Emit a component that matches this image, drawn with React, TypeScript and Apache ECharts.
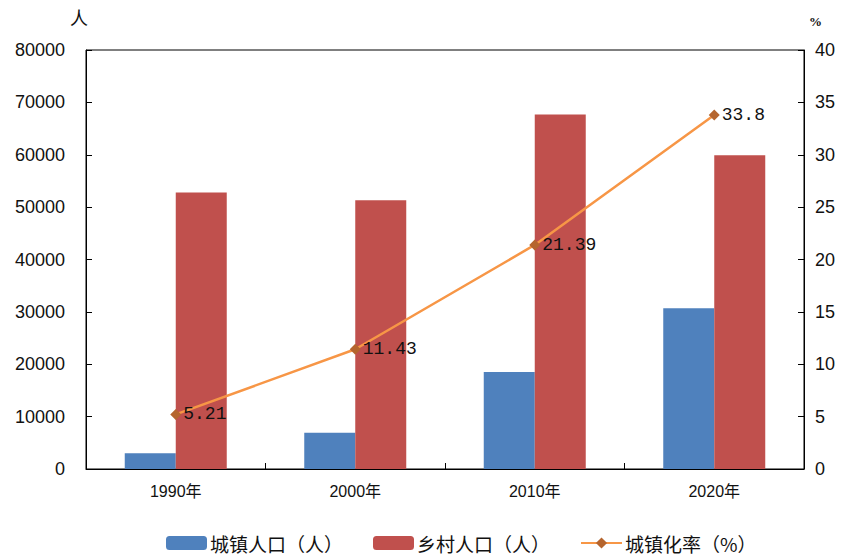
import React, { useEffect, useRef } from "react";
import * as echarts from "echarts";

const categories = ["1990年", "2000年", "2010年", "2020年"];
const urbanPop = [3000, 6900, 18500, 30700];
const ruralPop = [52800, 51300, 67700, 59900];
const urbanRate = [5.21, 11.43, 21.39, 33.8];
const seriesNames = ["城镇人口（人）", "乡村人口（人）", "城镇化率（%）"];

export default function App() {
  const ref = useRef<HTMLDivElement>(null);
  useEffect(() => {
    if (!ref.current) return;
    const chart = echarts.init(ref.current, null, { renderer: "svg" });
    const axisFont = "Liberation Sans, Arial, sans-serif";
    chart.setOption({
      animation: false,
      backgroundColor: "#fff",
      grid: {
        left: 86,
        right: 37,
        top: 50,
        bottom: 90,
        show: true,
        borderColor: "#000",
        borderWidth: 1,
        containLabel: false,
      },
      legend: {
        left: 166,
        top: 533,
        padding: 0,
        itemWidth: 41,
        itemHeight: 14,
        itemGap: 30,
        textStyle: {
          fontFamily: "Noto Sans CJK SC",
          fontSize: 19,
          lineHeight: 20,
          color: "#111",
          padding: [0, 0, 0, -2],
        },
        data: seriesNames,
      },
      xAxis: {
        type: "category",
        data: categories,
        axisLine: { lineStyle: { color: "#000", width: 1 } },
        axisTick: { show: true, inside: true, length: 6, lineStyle: { color: "#000" } },
        axisLabel: {
          color: "#111",
          fontFamily: "Liberation Sans, Noto Sans CJK SC, sans-serif",
          fontSize: 16,
          margin: 14,
        },
      },
      yAxis: [
        {
          type: "value",
          min: 0,
          max: 80000,
          interval: 10000,
          splitLine: { show: false },
          axisLine: { show: true, lineStyle: { color: "#000" } },
          axisTick: { show: true, inside: true, length: 6, lineStyle: { color: "#000" } },
          axisLabel: {
            color: "#111",
            fontFamily: axisFont,
            fontSize: 18,
            margin: 21,
            formatter: (v: number) => String(v),
          },
        },
        {
          type: "value",
          min: 0,
          max: 40,
          interval: 5,
          splitLine: { show: false },
          axisLine: { show: true, lineStyle: { color: "#000" } },
          axisTick: { show: true, inside: true, length: 6, lineStyle: { color: "#000" } },
          axisLabel: { color: "#111", fontFamily: axisFont, fontSize: 18, margin: 11 },
        },
      ],
      graphic: [
        {
          type: "text",
          left: 70,
          top: 8,
          style: { text: "人", font: "18px 'Noto Sans CJK SC'", fill: "#111" },
        },
        {
          type: "text",
          left: 809,
          top: 15,
          style: { text: "%", font: "bold 13px 'Liberation Serif'", fill: "#111" },
        },
      ],
      series: [
        {
          name: seriesNames[0],
          type: "bar",
          data: urbanPop,
          barWidth: 51,
          barGap: "0%",
          itemStyle: { color: "#4F81BD" },
        },
        {
          name: seriesNames[1],
          type: "bar",
          data: ruralPop,
          barWidth: 51,
          barGap: "0%",
          itemStyle: { color: "#C0504D" },
        },
        {
          name: seriesNames[2],
          type: "line",
          yAxisIndex: 1,
          data: urbanRate,
          symbol: "diamond",
          symbolSize: 11,
          lineStyle: { color: "#F79646", width: 2.5 },
          itemStyle: { color: "#B5652E" },
          label: {
            show: true,
            position: "right",
            distance: 2,
            color: "#111",
            fontFamily: "Liberation Mono, monospace",
            fontSize: 18,
          },
        },
      ],
    });
    return () => chart.dispose();
  }, []);
  return (
    <div
      ref={ref}
      style={{ position: "fixed", left: 0, top: 0, width: 841, height: 559 }}
    />
  );
}
